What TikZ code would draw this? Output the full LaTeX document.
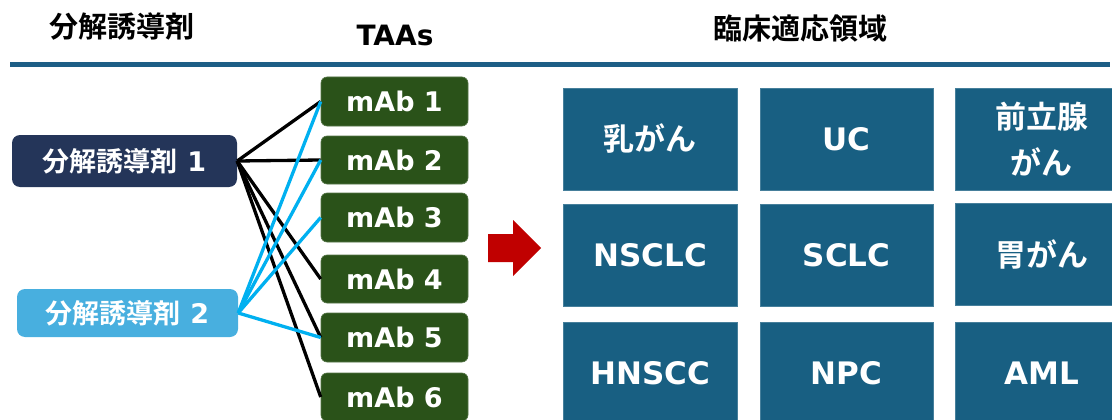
\documentclass[tikz,border=0pt]{standalone}
\usepackage{fontspec}
\setmainfont{DejaVu Sans}
\newfontfamily\cjk{Noto Sans CJK JP}[BoldFont={Noto Sans CJK JP Bold}]
\definecolor{hdrline}{HTML}{1D5E86}
\definecolor{areabox}{HTML}{185F82}
\definecolor{mabgreen}{HTML}{2A5219}
\definecolor{navybox}{HTML}{243559}
\definecolor{lightbox}{HTML}{48AFDF}
\definecolor{linkblue}{HTML}{00B0F0}
\definecolor{arrowred}{HTML}{C00000}
\tikzset{
  hdr/.style={text=black, font=\bfseries, inner sep=0pt},
  mab/.style={rectangle, rounded corners=6pt, fill=mabgreen, draw=mabgreen!80!white, line width=0.6pt,
    minimum width=147pt, minimum height=48pt, inner sep=0pt, text=white,
    font=\fontsize{27}{31}\selectfont\bfseries},
  drug/.style={rectangle, rounded corners=8pt, inner sep=0pt, text=white,
    font=\fontsize{27}{31}\selectfont\bfseries},
  area/.style={rectangle, fill=areabox, draw=areabox!80!white, line width=0.6pt,
    minimum width=173pt, minimum height=102pt, inner sep=0pt, text=white, align=center,
    font=\fontsize{31}{46}\selectfont\bfseries},
  blk/.style={draw=black, line width=3.3pt},
  blu/.style={draw=linkblue, line width=3.3pt},
}
\begin{document}
\begin{tikzpicture}[x=1pt,y=-1pt]
\useasboundingbox (0,0) rectangle (1112,420);
\clip (0,0) rectangle (1112,420);
% headers
\node[hdr, font=\fontsize{29}{32}\selectfont\bfseries\cjk] (h1) at (122,27) {分解誘導剤};
\node[hdr, font=\fontsize{28}{32}\selectfont\bfseries] (h2) at (395,35) {TAAs};
\node[hdr, font=\fontsize{29}{32}\selectfont\bfseries\cjk] (h3) at (800,29) {臨床適応領域};
\coordinate (lineL) at (10,64.5);
\coordinate (lineR) at (1110,64.5);
\draw[hdrline, line width=5pt] (lineL) -- (lineR);
% drug boxes
\node[drug, fill=navybox, minimum width=225pt, minimum height=52pt] (d1) at (124.5,161) {{\cjk 分解誘導剤}\ 1};
\node[drug, fill=lightbox, minimum width=221pt, minimum height=48pt] (d2) at (127.5,313) {{\cjk 分解誘導剤}\ 2};
% mAb boxes
\node[mab, minimum height=49pt] (m1) at (394.5,101.5) {mAb 1};
\node[mab] (m2) at (394.5,160) {mAb 2};
\node[mab, minimum height=49pt] (m3) at (394.5,217.5) {mAb 3};
\node[mab] (m4) at (394.5,279) {mAb 4};
\node[mab, minimum height=49pt] (m5) at (394.5,337.5) {mAb 5};
\node[mab] (m6) at (394.5,397) {mAb 6};
% connectors
\draw[blk] (d1.east) -- (m1.west);
\draw[blk] (d1.east) -- (m2.west);
\draw[blk] (d1.east) -- (m4.west);
\draw[blk] (d1.east) -- (m5.west);
\draw[blk] (d1.east) -- (m6.west);
\draw[blu] (d2.east) -- (m1.west);
\draw[blu] (d2.east) -- (m2.west);
\draw[blu] (d2.east) -- (m3.west);
\draw[blu] (d2.east) -- (m5.west);
% red arrow
\fill[arrowred] (488,234) -- (513,234) -- (513,220) -- (541,248) -- (513,276) -- (513,262) -- (488,262) -- cycle;
% area boxes
\node[area, minimum width=174pt] (a1) at (650,139) {\cjk 乳がん};
\node[area] (a2) at (846.5,139) {UC};
\node[area] (a3) at (1041.5,139) {\cjk 前立腺\\\cjk がん};
\node[area, minimum width=174pt] (a4) at (650,255) {NSCLC};
\node[area] (a5) at (846.5,255) {SCLC};
\node[area] (a6) at (1041.5,254) {\cjk 胃がん};
\node[area, minimum width=174pt] (a7) at (650,373) {HNSCC};
\node[area] (a8) at (846.5,373) {NPC};
\node[area] (a9) at (1041.5,373) {AML};
\end{tikzpicture}
\end{document}
